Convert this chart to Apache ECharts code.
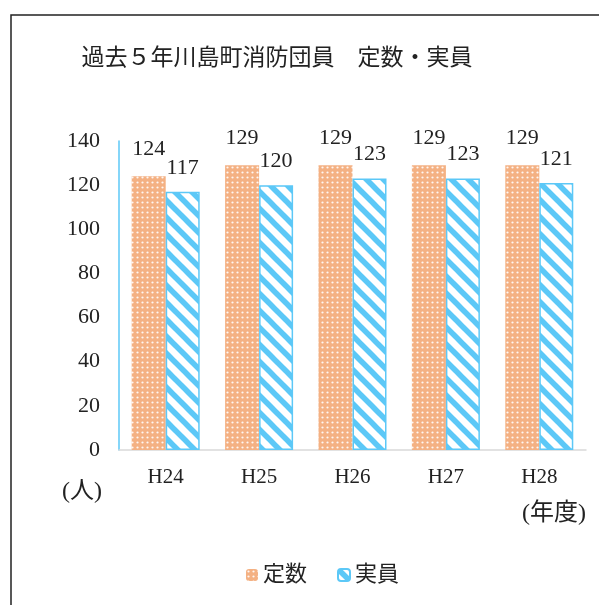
<!DOCTYPE html>
<html><head><meta charset="utf-8">
<script src="https://cdn.jsdelivr.net/npm/echarts@6/dist/echarts.min.js"></script>
<style>html,body{margin:0;padding:0;background:#fff}#c{width:599px;height:605px}</style>
</head><body><div id="c"></div>
<script>
var categories = ['H24','H25','H26','H27','H28'];
var teisu = [124,129,129,129,129];
var jitsuin = [117,120,123,123,121];
var yTicks = [0,20,40,60,80,100,120,140];

var FONT = '"Liberation Serif","DejaVu Serif","Noto Sans CJK JP",serif';
var ORANGE = '#F4B183';
var BLUE = '#5CC8F7';

function dotPattern(){
  var c = document.createElement('canvas'); c.width = 5; c.height = 5;
  var g = c.getContext('2d');
  g.fillStyle = ORANGE; g.fillRect(0,0,5,5);
  g.fillStyle = 'rgba(255,255,255,0.9)';
  g.beginPath(); g.arc(2.5,2.5,1.1,0,Math.PI*2); g.fill();
  return c;
}
function stripePattern(){
  var s = 17;
  var c = document.createElement('canvas'); c.width = s; c.height = s;
  var g = c.getContext('2d');
  g.fillStyle = '#fff'; g.fillRect(0,0,s,s);
  g.strokeStyle = BLUE; g.lineWidth = 5.5;
  for (var k=-1;k<=1;k++){
    g.beginPath(); g.moveTo(k*s - s, -s); g.lineTo(k*s + 2*s, 2*s); g.stroke();
  }
  return c;
}

var chart = echarts.init(document.getElementById('c'));
chart.setOption({
  animation:false,
  backgroundColor:'#fff',
  title:{text:'過去５年川島町消防団員　定数・実員', left:272, textAlign:'center', top:42,
    textStyle:{fontFamily:FONT, fontSize:23, fontWeight:'normal', color:'#222'}},
  grid:{left:119, right:13, top:141, bottom:155},
  legend:{left:241, top:559, itemWidth:12, itemHeight:12, itemGap:30,
    textStyle:{fontFamily:FONT, fontSize:22, color:'#222'},
    data:['定数','実員']},
  xAxis:{type:'category', data:categories,
    axisLine:{lineStyle:{color:'#D9D9D9', width:1.5}}, axisTick:{show:false},
    axisLabel:{margin:17, fontFamily:FONT, fontSize:21, color:'#222'}},
  yAxis:{type:'value', min:0, max:140, interval:20,
    axisLine:{show:true, lineStyle:{color:BLUE, width:1.5}}, axisTick:{show:false},
    splitLine:{show:false},
    axisLabel:{margin:19, fontFamily:FONT, fontSize:22, color:'#222',
      formatter:function(v){return yTicks.indexOf(v)>=0 ? String(v) : '';}}},
  series:[
    {name:'定数', type:'bar', data:teisu, barWidth:34, barGap:'0%',
      itemStyle:{color:{image:dotPattern(), repeat:'repeat'}},
      label:{show:true, position:'top', distance:16, fontFamily:FONT, fontSize:22, color:'#222'}},
    {name:'実員', type:'bar', data:jitsuin, barWidth:34,
      itemStyle:{color:{image:stripePattern(), repeat:'repeat'}, borderColor:BLUE, borderWidth:1.5},
      label:{show:true, position:'top', distance:13, fontFamily:FONT, fontSize:22, color:'#222'}}
  ],
  graphic:[
    {type:'rect', shape:{x:11, y:15, width:700, height:700}, style:{fill:'none', stroke:'#222', lineWidth:1.5}, silent:true},
    {type:'text', x:62, y:480, style:{text:'(人)', fontFamily:FONT, fontSize:24, fill:'#222'}},
    {type:'text', x:522, y:502, style:{text:'(年度)', fontFamily:FONT, fontSize:24, fill:'#222'}}
  ]
});
</script></body></html>
